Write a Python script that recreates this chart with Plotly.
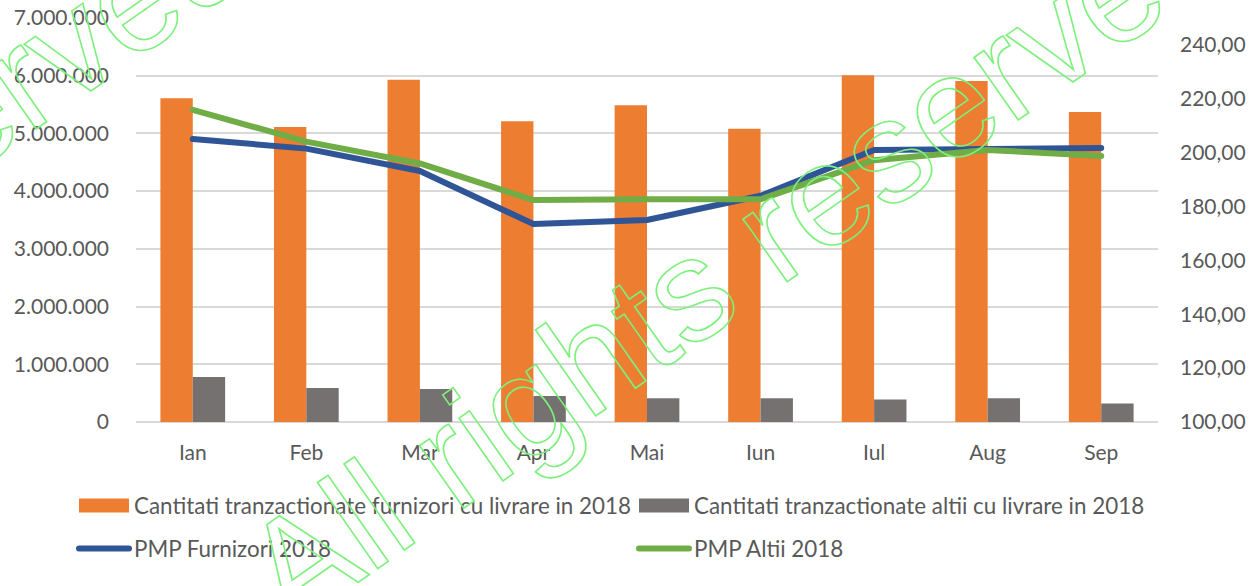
import plotly.graph_objects as go

months = ["Ian", "Feb", "Mar", "Apr", "Mai", "Iun", "Iul", "Aug", "Sep"]
furnizori = [5610000, 5110000, 5930000, 5210000, 5490000, 5080000, 6010000, 5910000, 5370000]
altii = [780000, 590000, 570000, 450000, 410000, 410000, 390000, 410000, 320000]
pmp_furnizori = [205.1, 201.5, 193.2, 173.5, 175.0, 184.0, 201.0, 201.6, 201.7]
pmp_altii = [215.9, 204.1, 196.0, 182.4, 182.7, 182.7, 197.2, 201.0, 198.8]

names = [
    "Cantitati tranzactionate furnizori cu livrare in 2018",
    "Cantitati tranzactionate altii cu livrare in 2018",
    "PMP Furnizori 2018",
    "PMP Altii 2018",
]
watermark = "All rights reserved"

FONT = "Lato"
TXT = "#595959"

fig = go.Figure()
fig.add_trace(go.Bar(x=months, y=furnizori, name=names[0], marker_color="#ED7D31",
                     marker_line_width=0, legend="legend"))
fig.add_trace(go.Bar(x=months, y=altii, name=names[1], marker_color="#767171",
                     marker_line_width=0, legend="legend"))
fig.add_trace(go.Scatter(x=months, y=pmp_furnizori, name=names[2], mode="lines",
                         line=dict(color="#2F5597", width=6), yaxis="y2", legend="legend2"))
fig.add_trace(go.Scatter(x=months, y=pmp_altii, name=names[3], mode="lines",
                         line=dict(color="#70AD47", width=6), yaxis="y2", legend="legend2"))

ml, mr, mt, mb = 136, 95, 18, 164
W, H = 1253, 586
pw, ph = W - ml - mr, H - mt - mb

def px_x(px):
    return (px - ml) / pw

def px_y(py):
    return (H - mb - py) / ph

leg_common = dict(orientation="h", xanchor="left", yanchor="middle",
                  entrywidth=495, entrywidthmode="pixels", itemwidth=50,
                  font=dict(size=22.4, color=TXT), bgcolor="rgba(0,0,0,0)",
                  traceorder="normal")

fig.update_layout(
    width=W, height=H, autosize=False,
    margin=dict(l=ml, r=mr, t=mt, b=mb, autoexpand=False),
    paper_bgcolor="white", plot_bgcolor="white",
    separators=",.",
    barmode="group", bargap=0.43, bargroupgap=0,
    font=dict(family=FONT, size=21, color=TXT),
    xaxis=dict(showgrid=False, showline=False, zeroline=False, ticks="", automargin=False,
               ticklabelstandoff=16, tickfont=dict(size=21, color=TXT)),
    yaxis=dict(range=[0, 7000000], dtick=1000000, tick0=0, tickformat=",d", automargin=False,
               showgrid=True, gridcolor="#D9D9D9", gridwidth=1.6,
               zeroline=True, zerolinecolor="#D9D9D9", zerolinewidth=1.6,
               showline=False, ticks="", ticklabelstandoff=26,
               tickfont=dict(size=21, color=TXT)),
    yaxis2=dict(range=[100, 250], dtick=20, tick0=100, tickformat=".2f", automargin=False,
                overlaying="y", side="right", showgrid=False, zeroline=False,
                showline=False, ticks="", ticklabelstandoff=21,
                tickfont=dict(size=21, color=TXT)),
    legend=dict(x=px_x(74), y=px_y(506), **leg_common),
    legend2=dict(x=px_x(74), y=px_y(549), **leg_common),
    showlegend=True,
)

for cx, cy in [(737, 256), (-245, 265)]:
    fig.add_annotation(text=watermark, xref="paper", yref="paper",
                       x=px_x(cx), y=px_y(cy), xanchor="center", yanchor="middle",
                       showarrow=False, textangle=-35,
                       font=dict(family="Liberation Sans", size=145, color="#7CF07C"))

post = """
document.body.style.margin = '0';
document.body.style.padding = '0';
var gd = document.getElementById('{plot_id}');
function wm(){
  gd.querySelectorAll('.annotation-text').forEach(function(t){
    t.style.fill = 'none';
    t.style.fillOpacity = '0';
    t.style.stroke = '#7CF07C';
    t.style.strokeWidth = '1.6px';
  });
  gd.querySelectorAll('g.legend g.legendpoints path').forEach(function(p){
    p.setAttribute('d', 'M-25,-7H25V7H-25Z');
  });
  gd.querySelectorAll('.legendlines path, .scatterlayer .js-line').forEach(function(p){
    p.style.strokeLinecap = 'round';
    p.style.strokeLinejoin = 'round';
  });
}
wm();
setTimeout(wm, 50);
gd.on('plotly_afterplot', wm);
"""

fig.write_html("out.html", post_script=post, config={"displayModeBar": False})
